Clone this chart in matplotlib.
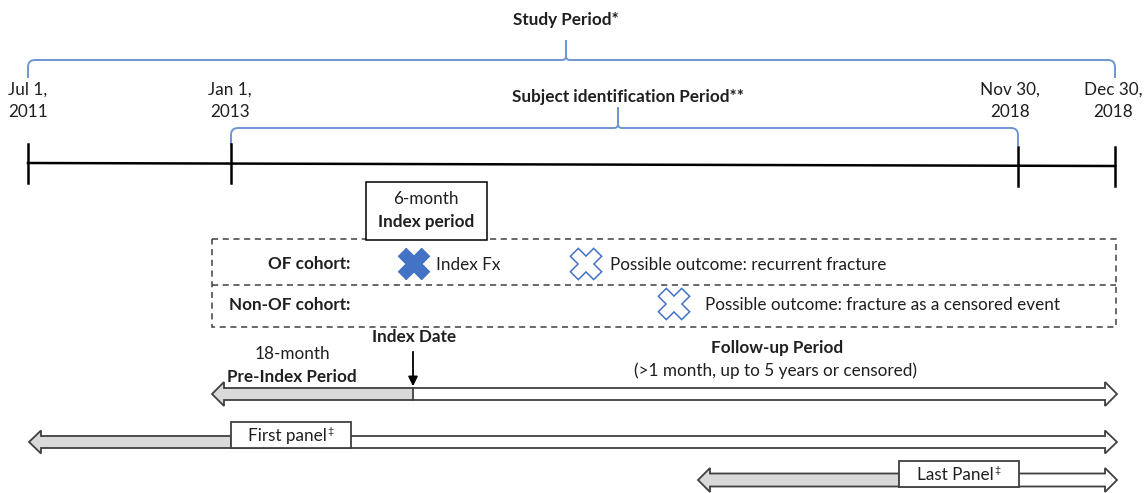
import numpy as np
import matplotlib.pyplot as plt
from matplotlib.patches import Polygon, Rectangle, PathPatch
from matplotlib.path import Path

plt.rcParams['font.family'] = ['Lato', 'DejaVu Sans']

# ---- content ----
study_title = 'Study Period*'
ident_title = 'Subject identification Period**'
date_labels = ['Jul 1,\n2011', 'Jan 1,\n2013', 'Nov 30,\n2018', 'Dec 30,\n2018']
cohort_labels = ['OF cohort:', 'Non-OF cohort:']
index_fx_label = 'Index Fx'
outcome_labels = ['Possible outcome: recurrent fracture',
                  'Possible outcome: fracture as a censored event']
index_box_lines = ['6-month', 'Index period']
pre_index_lines = ['18-month', 'Pre-Index Period']
follow_up_lines = ['Follow-up Period', '(>1 month, up to 5 years or censored)']
index_date_label = 'Index Date'
panel_labels = ['First panel', 'Last Panel']

# ---- layout (pixel space of the 1146x493 canvas) ----
tick_x = [28, 231, 1018, 1115]
label_x = [28, 230, 1010, 1113]
line_y = 164
FS = 12.3
BLUE = '#4472C4'
BRACE = '#6F96D2'
GRAY = '#D9D9D9'
EDGE = '#404040'
TXT = '#1f1f1f'

fig = plt.figure(figsize=(11.46, 4.93), dpi=100)
ax = fig.add_axes([0, 0, 1, 1])
ax.set_xlim(0, 1146)
ax.set_ylim(493, 0)
ax.axis('off')


def brace(xl, xr, xt, y_end, y_h, y_tip, r=7, rt=4):
    verts = [(xl, y_end), (xl, y_h + r), (xl, y_h), (xl + r, y_h),
             (xt - rt, y_h), (xt, y_h), (xt, y_h - rt), (xt, y_tip),
             (xt, y_h - rt), (xt, y_h), (xt + rt, y_h),
             (xr - r, y_h), (xr, y_h), (xr, y_h + r), (xr, y_end)]
    codes = [Path.MOVETO, Path.LINETO, Path.CURVE3, Path.CURVE3,
             Path.LINETO, Path.CURVE3, Path.CURVE3, Path.LINETO,
             Path.LINETO, Path.CURVE3, Path.CURVE3,
             Path.LINETO, Path.CURVE3, Path.CURVE3, Path.LINETO]
    ax.add_patch(PathPatch(Path(verts, codes), fill=False, ec=BRACE, lw=1.4))


def cross(xc, yc, filled):
    L, w = 16.5, 5.6
    pts = np.array([(w, w), (w, L), (-w, L), (-w, w), (-L, w), (-L, -w),
                    (-w, -w), (-w, -L), (w, -L), (w, -w), (L, -w), (L, w)])
    c, s = np.cos(np.pi / 4), np.sin(np.pi / 4)
    rot = pts @ np.array([[c, s], [-s, c]])
    rot[:, 0] += xc
    rot[:, 1] += yc
    if filled:
        ax.add_patch(Polygon(rot, closed=True, fc=BLUE, ec=BLUE, lw=0.8, zorder=3))
    else:
        ax.add_patch(Polygon(rot, closed=True, fc='white', ec=BLUE, lw=1.1, zorder=3))


def block_arrow(x0, x1, yc, split, sh=12, hh=24, hl=12):
    pts = [(x0, yc), (x0 + hl, yc - hh / 2), (x0 + hl, yc - sh / 2),
           (x1 - hl, yc - sh / 2), (x1 - hl, yc - hh / 2), (x1, yc),
           (x1 - hl, yc + hh / 2), (x1 - hl, yc + sh / 2),
           (x0 + hl, yc + sh / 2), (x0 + hl, yc + hh / 2)]
    gray = [(x0, yc), (x0 + hl, yc - hh / 2), (x0 + hl, yc - sh / 2),
            (split, yc - sh / 2), (split, yc + sh / 2),
            (x0 + hl, yc + sh / 2), (x0 + hl, yc + hh / 2)]
    ax.add_patch(Polygon(pts, closed=True, fc='white', ec='none', zorder=2))
    ax.add_patch(Polygon(gray, closed=True, fc=GRAY, ec='none', zorder=2))
    ax.add_patch(Polygon(pts, closed=True, fill=False, ec=EDGE, lw=1.3, zorder=3))
    ax.plot([split, split], [yc - sh / 2, yc + sh / 2], color=EDGE, lw=1.3, zorder=3)


def panel_box(x0, x1, y0, y1, label):
    ax.add_patch(Rectangle((x0, y0), x1 - x0, y1 - y0, fc='white', ec=EDGE, lw=1.3, zorder=4))
    t = ax.text((x0 + x1) / 2 - 4, (y0 + y1) / 2 + 1, label, ha='center', va='center',
                fontsize=FS, color=TXT, zorder=5)
    ax.annotate('\u2021', xy=(1, 0.78), xycoords=t, xytext=(0.5, 0), textcoords='offset points',
                ha='left', va='center', fontsize=7.5, color=TXT, zorder=5)


# ---- study / identification periods ----
ax.text(566, 20, study_title, ha='center', va='center', fontsize=FS, fontweight='bold', color=TXT)
brace(tick_x[0], tick_x[3], 566, 78, 60, 40)
ax.text(628, 97, ident_title, ha='center', va='center', fontsize=FS, fontweight='bold', color=TXT)
brace(tick_x[1], tick_x[2], 618, 146, 128, 107)

for lx, lab in zip(label_x, date_labels):
    ax.text(lx, 101, lab, ha='center', va='center', fontsize=FS, color=TXT,
            linespacing=1.5, multialignment='center')

# timeline
ax.plot([tick_x[0], tick_x[3]], [line_y - 1, line_y + 2], color='black', lw=1.8)
for i, tx in enumerate(tick_x):
    y0 = 144 if i < 2 else 147
    ax.plot([tx, tx], [y0, y0 + 39], color='black', lw=1.8)

# ---- cohort box ----
ax.add_patch(Rectangle((212, 239), 904, 88, fill=False, ec=EDGE, lw=1.1,
                       linestyle=(0, (4, 3)), zorder=2))
ax.plot([212, 1116], [285, 285], color=EDGE, lw=1.1, linestyle=(0, (4, 3)), zorder=2)
ax.add_patch(Rectangle((366, 182), 121, 58, fc='white', ec='black', lw=1.1, zorder=3))
ax.text(426, 199, index_box_lines[0], ha='center', va='center', fontsize=FS, color=TXT, zorder=4)
ax.text(426, 222, index_box_lines[1], ha='center', va='center', fontsize=FS,
        fontweight='bold', color=TXT, zorder=4)

ax.text(350, 264, cohort_labels[0], ha='right', va='center', fontsize=FS, fontweight='bold', color=TXT)
ax.text(350, 305, cohort_labels[1], ha='right', va='center', fontsize=FS, fontweight='bold', color=TXT)
cross(414, 264, True)
ax.text(436, 265, index_fx_label, ha='left', va='center', fontsize=FS, color=TXT)
cross(586, 264, False)
ax.text(610, 265, outcome_labels[0], ha='left', va='center', fontsize=FS, color=TXT)
cross(674, 304, False)
ax.text(705, 305, outcome_labels[1], ha='left', va='center', fontsize=FS, color=TXT)

# ---- index date / follow-up ----
ax.text(414, 337, index_date_label, ha='center', va='center', fontsize=FS, fontweight='bold', color=TXT)
ax.annotate('', xy=(413, 389), xytext=(413, 349),
            arrowprops=dict(arrowstyle='-|>', color='black', lw=1.3, mutation_scale=14), zorder=5)
ax.text(292, 354, pre_index_lines[0], ha='center', va='center', fontsize=FS, color=TXT)
ax.text(292, 377, pre_index_lines[1], ha='center', va='center', fontsize=FS, fontweight='bold', color=TXT)
ax.text(777, 348, follow_up_lines[0], ha='center', va='center', fontsize=FS, fontweight='bold', color=TXT)
ax.text(776, 371, follow_up_lines[1], ha='center', va='center', fontsize=FS, color=TXT)

block_arrow(212, 1117, 394, 413)
block_arrow(29, 1117, 442, 231, sh=12, hh=23)
panel_box(231, 351, 422, 448, panel_labels[0])
block_arrow(698, 1117, 480, 899, sh=13, hh=24)
panel_box(899, 1019, 461, 487, panel_labels[1])

fig.savefig('out.png', dpi=100)
